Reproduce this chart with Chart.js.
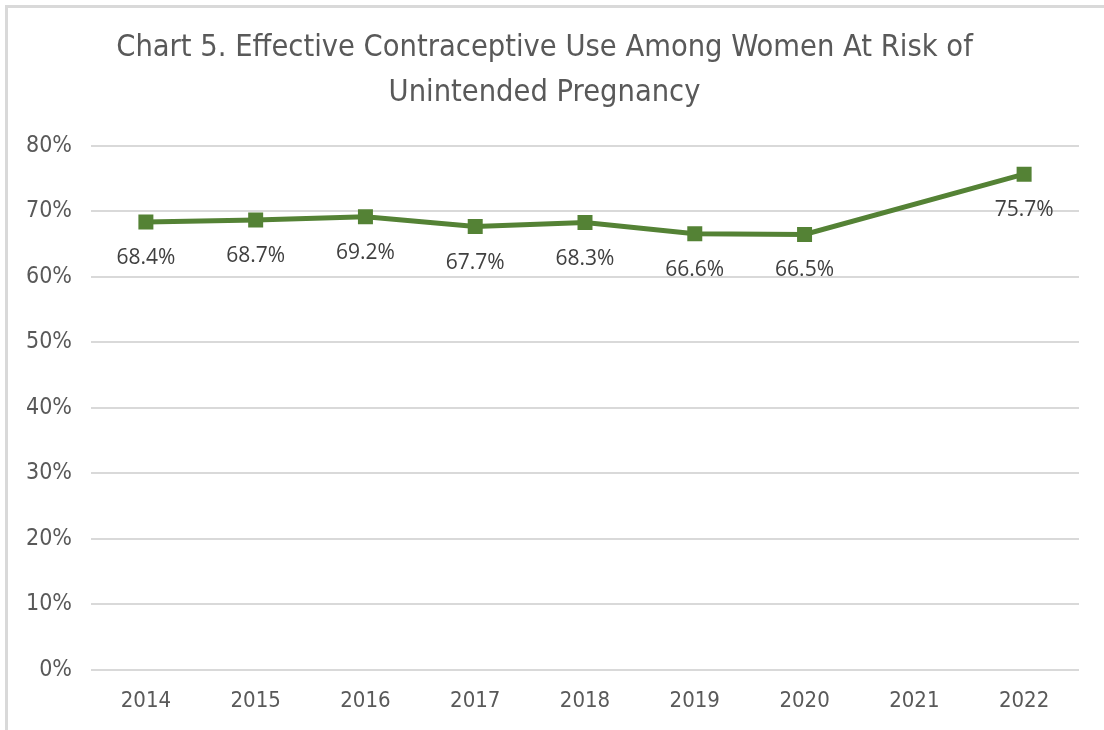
<!DOCTYPE html>
<html>
<head>
<meta charset="utf-8">
<script src="https://cdn.jsdelivr.net/npm/chart.js@4.4.1/dist/chart.umd.min.js"></script>
<style>
  html, body { margin: 0; padding: 0; background: #fff; }
  body { width: 1104px; height: 730px; position: relative; overflow: hidden; }
  #wrap { position: absolute; left: 0; top: 0; width: 1104px; height: 730px; }
  #frame { position: absolute; left: 5px; top: 5px; right: 0; bottom: 0;
           border-top: 3px solid #d9d9d9; border-left: 3px solid #d9d9d9; pointer-events: none; }
</style>
</head>
<body>
<div id="wrap"><canvas id="c" width="1104" height="730"></canvas></div>
<div id="frame"></div>
<script>
const titleLines = ["Chart 5. Effective Contraceptive Use Among Women At Risk of", "Unintended Pregnancy"];
const years = ["2014", "2015", "2016", "2017", "2018", "2019", "2020", "2021", "2022"];
const useRate = [68.4, 68.7, 69.2, 67.7, 68.3, 66.6, 66.5, null, 75.7];
const yTicks = [0, 10, 20, 30, 40, 50, 60, 70, 80];

const sans = '"Liberation Sans Narrow", "DejaVu Sans Condensed", "Liberation Sans", Arial, sans-serif';

const valueLabels = {
  id: 'valueLabels',
  afterDatasetsDraw(chart) {
    const ctx = chart.ctx;
    const meta = chart.getDatasetMeta(0);
    ctx.save();
    ctx.font = '21px "Open Sans", sans-serif';
    ctx.fillStyle = '#404040';
    ctx.textAlign = 'center';
    ctx.textBaseline = 'middle';
    meta.data.forEach((pt, i) => {
      const v = useRate[i];
      if (v === null || v === undefined) return;
      ctx.fillText(v.toFixed(1) + '%', pt.x, pt.y + 36);
    });
    ctx.restore();
  }
};

new Chart(document.getElementById('c'), {
  type: 'line',
  data: {
    labels: years,
    datasets: [{
      data: useRate,
      borderColor: '#548235',
      backgroundColor: '#548235',
      borderWidth: 5,
      pointStyle: 'rect',
      pointRadius: 10.6,
      pointHoverRadius: 10.6,
      pointBorderWidth: 0,
      spanGaps: true,
      tension: 0
    }]
  },
  options: {
    responsive: false,
    animation: false,
    events: [],
    layout: { padding: { left: 10, right: 25, top: 0, bottom: 0 } },
    plugins: {
      legend: { display: false },
      tooltip: { enabled: false },
      title: {
        display: true,
        text: titleLines,
        color: '#595959',
        font: { family: sans, size: 30.5, weight: 'normal', lineHeight: 1.475 },
        padding: { top: 25.5, bottom: 30.5 }
      }
    },
    scales: {
      x: {
        offset: true,
        grid: { display: false, drawTicks: false },
        border: { display: false },
        afterFit(scale) { scale.height = 60; },
        ticks: { color: '#595959', font: { family: sans, size: 22 }, padding: 17.8, maxRotation: 0 }
      },
      y: {
        min: 0,
        max: 80,
        afterBuildTicks(scale) { scale.ticks = yTicks.map(v => ({ value: v })); },
        afterFit(scale) { scale.width = 81; },
        grid: { color: '#d9d9d9', lineWidth: 2, drawTicks: false },
        border: { display: false },
        ticks: { color: '#595959', font: { family: sans, size: 23 }, padding: 19,
                 callback: v => v + '%' }
      }
    }
  },
  plugins: [valueLabels]
});
</script>
</body>
</html>
